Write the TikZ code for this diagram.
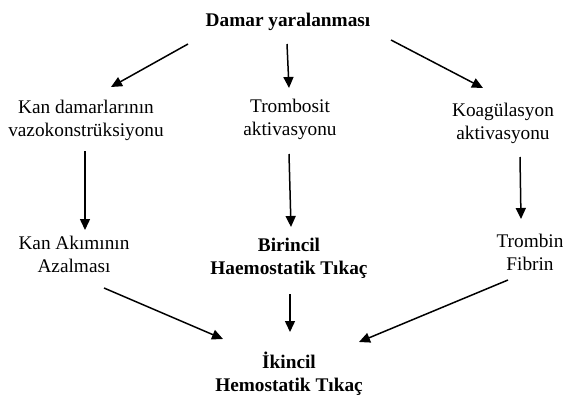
\documentclass[tikz,border=0pt]{standalone}
\usepackage{fontspec}
\setmainfont{Liberation Serif}
\usetikzlibrary{arrows.meta}
\begin{document}
\begin{tikzpicture}[x=1pt,y=-1pt,
  lbl/.style={align=center,inner sep=0pt,anchor=base,font=\fontsize{19.3}{22.5}\selectfont},
  blbl/.style={lbl,font=\fontsize{19.3}{22.5}\selectfont\bfseries},
  arr/.style={-{Triangle[length=11pt,width=10pt]},line width=1.5pt}]
\useasboundingbox (0,0) rectangle (563,399);
\node[blbl] (top) at (288,26) {Damar yaralanması};
\node[lbl] (vaso) at (86,136) {Kan damarlarının\\vazokonstrüksiyonu};
\node[lbl] (tromb) at (290,135) {Trombosit\\aktivasyonu};
\node[lbl] (koag) at (503,139) {Koagülasyon\\aktivasyonu};
\node[lbl] (akim) at (74,272) {Kan Akımının\\Azalması};
\node[blbl] (bir) at (289,274) {Birincil\\Haemostatik Tıkaç};
\node[lbl] (trfib) at (530,270) {Trombin\\Fibrin};
\node[blbl] (iki) at (289,391) {İkincil\\Hemostatik Tıkaç};
% connector ends
\coordinate (a1s) at (188,44); \coordinate (a1e) at (111,87);
\coordinate (a2s) at (287,44); \coordinate (a2e) at (289,88);
\coordinate (a3s) at (391,40); \coordinate (a3e) at (483,88);
\coordinate (a4s) at (85,151); \coordinate (a4e) at (85,230);
\coordinate (a5s) at (289,154); \coordinate (a5e) at (291,227);
\coordinate (a6s) at (520,157); \coordinate (a6e) at (521,219);
\coordinate (a7s) at (104,288); \coordinate (a7e) at (223,339);
\coordinate (a8s) at (290,294); \coordinate (a8e) at (290,332);
\coordinate (a9s) at (508,280); \coordinate (a9e) at (359,342);
\draw[arr] (a1s) -- (a1e);
\draw[arr] (a2s) -- (a2e);
\draw[arr] (a3s) -- (a3e);
\draw[arr] (a4s) -- (a4e);
\draw[arr] (a5s) -- (a5e);
\draw[arr] (a6s) -- (a6e);
\draw[arr] (a7s) -- (a7e);
\draw[arr] (a8s) -- (a8e);
\draw[arr] (a9s) -- (a9e);
\end{tikzpicture}
\end{document}
